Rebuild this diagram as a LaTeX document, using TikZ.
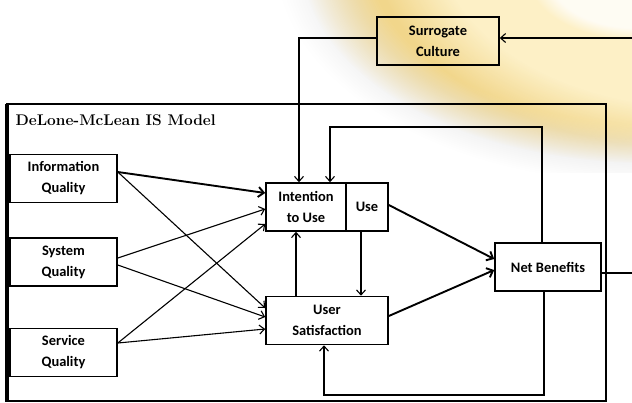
\documentclass[tikz,border=0pt]{standalone}
\usepackage{fontspec}
\newfontfamily\boxfont{Carlito}
\usetikzlibrary{arrows.meta,calc,fadings}
\definecolor{glowgold}{HTML}{F7D064}
\definecolor{glowpale}{HTML}{FDF0C6}

\begin{document}
\begin{tikzpicture}[x=1bp, y=-1bp,
    blk/.style={draw, line width=1.6bp, fill=white, inner sep=0pt,
      font=\boxfont\bfseries\fontsize{14.5}{21}\selectfont, align=center,
      minimum height=48bp},
    arr/.style={-{Straight Barb[length=5bp,width=9bp]}, line width=1.1bp},
    arrbold/.style={-{Straight Barb[length=5.5bp,width=10bp]}, line width=1.9bp}]
    \useasboundingbox (0,0) rectangle (632,402);

    % Glow behind the top right corner
    \begin{scope}
      \clip (280,0) rectangle (632,172);
      \fill[gray, opacity=0.2, path fading=circle with fuzzy edge 20 percent] (648,-42) ellipse (372 and 225);
      \fill[glowgold, opacity=0.7, path fading=circle with fuzzy edge 20 percent] (650,-40) ellipse (348 and 203);
      \fill[glowpale, path fading=circle with fuzzy edge 20 percent] (705,-65) ellipse (335 and 215);
      \fill[white, opacity=0.8, path fading=circle with fuzzy edge 20 percent] (640,-20) ellipse (110 and 60);
    \end{scope}

    % Model frame (left side is heavier)
    \draw[line width=2bp] (7,104) rectangle (606,401);
    \draw[line width=3.5bp] (7,104) -- (7,402);
    \node[anchor=west, font=\bfseries\fontsize{15.5}{17}\selectfont] (title) at (12,120) {DeLone-McLean IS Model};

    % Boxes
    \node[blk, fill=none, minimum width=122bp] (surr) at (438,41) {Surrogate\\Culture};
    \node[blk, minimum width=107bp] (info) at (63.5,178.5) {Information\\Quality};
    \node[blk, minimum width=107bp] (sys) at (63.5,262) {System\\Quality};
    \node[blk, minimum width=107bp] (serv) at (63.5,352.5) {Service\\Quality};
    \node[blk, minimum width=80bp] (intent) at (306,207) {Intention\\to Use};
    \node[blk, minimum width=42bp] (use) at (367,207) {Use};
    \node[blk, minimum width=122bp] (usat) at (327,320.5) {User\\Satisfaction};
    \node[blk, minimum width=106bp] (nb) at (548,267) {Net Benefits};

    % Bends of the loops
    \coordinate (fbtop) at (330,127);
    \coordinate (fbbot) at (324,395);
    \coordinate (scin) at (632,38);
    \coordinate (nbout) at (632,273);

    % Quality -> intention / satisfaction
    \draw[arrbold] ($(info.east)+(0,-6.5)$) -- ($(intent.west)+(0,-14)$);
    \draw[arr] ($(info.east)+(0,-6.5)$) -- ($(usat.west)+(0,-12.5)$);
    \draw[arr] ($(sys.east)+(0,-4)$) -- ($(intent.west)+(0,2)$);
    \draw[arr] ($(sys.east)+(0,3)$) -- ($(usat.west)+(0,-3.5)$);
    \draw[arr] ($(serv.east)+(0,-9.5)$) -- ($(intent.west)+(0,17)$);
    \draw[arr] ($(serv.east)+(0,-9.5)$) -- ($(usat.west)+(0,8.5)$);

    % Between use and satisfaction
    \draw[arr] ($(usat.north)+(-31,0)$) -- ($(intent.south)+(-10,0)$);
    \draw[arr] ($(use.south)+(-6,0)$) -- ($(usat.north)+(34,0)$);

    % To net benefits
    \draw[arrbold] ($(use.east)+(0,-2)$) -- ($(nb.west)+(0,-8)$);
    \draw[arrbold] ($(usat.east)+(0,-4.5)$) -- ($(nb.west)+(0,3)$);

    % Feedback loops
    \draw[arr] ($(nb.north)+(-6,0)$) |- (fbtop) -- ($(intent.north)+(24,0)$);
    \draw[arr] ($(nb.south)+(-4,0)$) |- (fbbot) -- ($(usat.south)+(-3,0)$);

    % Surrogate culture
    \draw[arr] (scin) -- ($(surr.east)+(0,-3)$);
    \draw[arr] ($(surr.west)+(0,-3)$) -| ($(intent.north)+(-7,0)$);
    \draw[line width=1.1bp] ($(nb.east)+(0,6)$) -- (nbout);
\end{tikzpicture}
\end{document}
